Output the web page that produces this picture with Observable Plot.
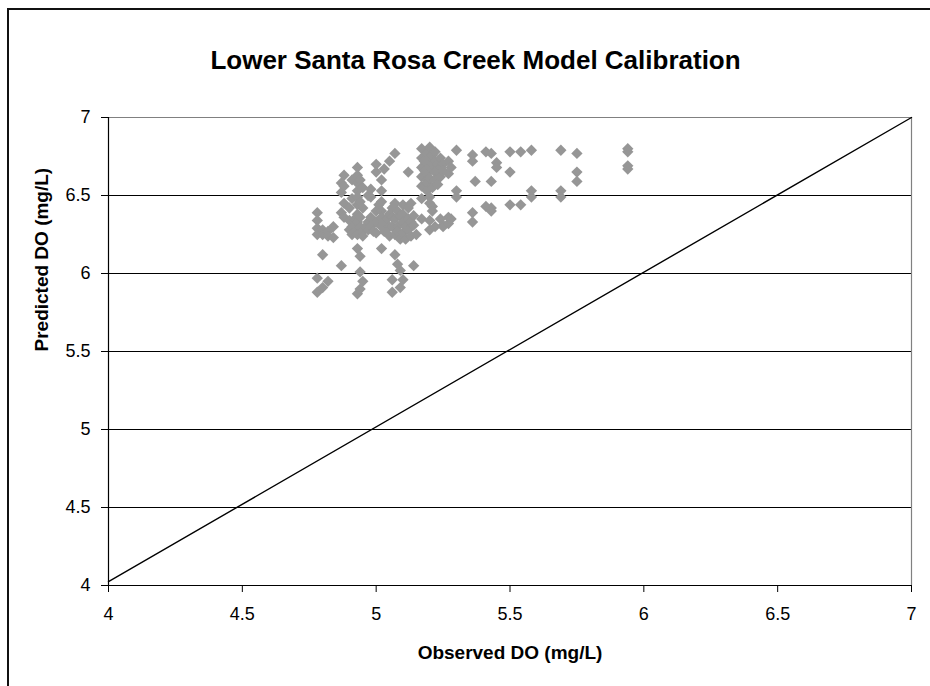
<!DOCTYPE html>
<html><head><meta charset="utf-8">
<script src="https://cdn.jsdelivr.net/npm/d3@7"></script>
<script src="https://cdn.jsdelivr.net/npm/@observablehq/plot@0.6"></script>
<style>
body{margin:0;background:#fff;}
#wrap{position:relative;width:930px;height:686px;overflow:hidden;background:#fff;}
#frame{position:absolute;left:7px;top:8px;width:960px;height:720px;border:2px solid #111;box-sizing:border-box;}
#chart{position:absolute;left:0;top:0;}
</style></head><body>
<div id="wrap"><div id="frame"></div><div id="chart"></div></div>
<script>
const title = "Lower Santa Rosa Creek Model Calibration";
const xTitle = "Observed DO (mg/L)";
const yTitle = "Predicted DO (mg/L)";
const xTicks = [4, 4.5, 5, 5.5, 6, 6.5, 7];
const yTicks = [4, 4.5, 5, 5.5, 6, 6.5, 7];
const gridY = [4.5, 5, 5.5, 6, 6.5];
const lineX = [4, 7];
const lineY = [4.025, 7];

const obsDO = [
  4.78,4.78,4.78,4.78,4.78,4.78,
  4.80,4.80,4.80,4.80,
  4.82,4.82,4.82,
  4.84,4.84,
  4.87,4.87,4.87,4.87,
  4.88,4.88,4.88,4.88,
  4.90,4.90,4.90,
  4.91,4.91,4.91,4.91,
  4.92,
  4.93,4.93,4.93,4.93,4.93,4.93,4.93,4.93,4.93,4.93,4.93,4.93,
  4.94,4.94,4.94,4.94,4.94,4.94,4.94,
  4.95,4.95,4.95,4.95,4.95,
  4.96,
  4.97,4.97,4.97,
  4.98,4.98,4.98,4.98,
  4.99,
  5.00,5.00,5.00,5.00,5.00,
  5.01,
  5.02,5.02,5.02,5.02,5.02,5.02,5.02,
  5.03,5.03,5.03,
  5.04,
  5.05,5.05,5.05,5.05,
  5.06,5.06,5.06,5.06,5.06,
  5.07,5.07,5.07,5.07,5.07,
  5.08,5.08,5.08,5.08,
  5.09,5.09,5.09,5.09,
  5.10,5.10,5.10,5.10,5.10,
  5.11,5.11,
  5.12,5.12,5.12,5.12,
  5.13,5.13,5.13,
  5.14,5.14,5.14,
  5.15,
  5.17,5.17,5.17,5.17,5.17,5.17,5.17,
  5.18,5.18,
  5.19,5.19,5.19,5.19,5.19,5.19,
  5.20,5.20,5.20,5.20,5.20,5.20,5.20,5.20,
  5.21,5.21,5.21,5.21,5.21,
  5.22,5.22,5.22,5.22,5.22,
  5.23,5.23,
  5.24,5.24,5.24,5.24,
  5.25,5.25,5.25,5.25,
  5.27,5.27,5.27,5.27,
  5.28,5.28,
  5.30,5.30,5.30,
  5.36,5.36,5.36,5.36,
  5.37,
  5.41,5.41,
  5.43,5.43,5.43,5.43,
  5.45,5.45,
  5.50,5.50,5.50,
  5.54,5.54,
  5.58,5.58,5.58,
  5.69,5.69,5.69,
  5.75,5.75,5.75,
  5.94,5.94,5.94,5.94
];
const predDO = [
  6.39,6.34,6.29,6.25,5.97,5.88,
  6.28,6.25,6.12,5.91,
  6.27,6.24,5.95,
  6.30,6.23,
  6.58,6.52,6.39,6.05,
  6.63,6.56,6.45,6.36,
  6.42,6.34,6.28,
  6.60,6.48,6.30,6.25,
  6.35,
  6.68,6.63,6.58,6.53,6.49,6.44,6.38,6.33,6.28,6.25,6.16,5.87,
  6.60,6.46,6.36,6.30,6.11,6.01,5.90,
  6.55,6.42,6.27,6.24,5.95,
  6.30,
  6.50,6.33,6.28,
  6.54,6.49,6.36,6.30,
  6.27,
  6.70,6.65,6.40,6.33,6.26,
  6.44,
  6.60,6.53,6.46,6.40,6.36,6.30,6.16,
  6.67,6.33,6.27,
  6.35,
  6.72,6.38,6.30,6.24,
  6.42,6.36,6.30,5.96,5.88,
  6.77,6.45,6.35,6.25,6.12,
  6.40,6.30,6.27,6.06,
  6.37,6.22,6.02,5.91,
  6.44,6.38,6.33,6.26,5.96,
  6.30,6.22,
  6.65,6.42,6.35,6.28,
  6.45,6.33,6.24,
  6.37,6.31,6.05,
  6.25,
  6.80,6.74,6.68,6.62,6.56,6.48,6.35,
  6.72,6.66,
  6.77,6.71,6.64,6.60,6.58,6.53,
  6.81,6.75,6.68,6.61,6.49,6.45,6.34,6.28,
  6.76,6.70,6.55,6.43,6.40,
  6.78,6.72,6.65,6.60,6.30,
  6.70,6.57,
  6.74,6.68,6.62,6.35,
  6.70,6.66,6.31,6.30,
  6.72,6.64,6.36,6.32,
  6.68,6.35,
  6.79,6.53,6.49,
  6.76,6.72,6.39,6.33,
  6.59,
  6.78,6.43,
  6.77,6.59,6.42,6.40,
  6.71,6.68,
  6.78,6.65,6.44,
  6.78,6.44,
  6.79,6.53,6.49,
  6.79,6.53,6.49,
  6.77,6.65,6.59,
  6.80,6.78,6.69,6.67
];

const points = obsDO.map((x, i) => ({x, y: predDO[i]}));
const diag = lineX.map((x, i) => ({x, y: lineY[i]}));
const fmt = d => String(d);

const chart = Plot.plot({
  width: 930,
  height: 686,
  marginLeft: 108,
  marginRight: 19,
  marginTop: 117,
  marginBottom: 101,
  style: {fontFamily: "'Liberation Sans', Arial, sans-serif", fontSize: "18px", color: "#000", background: "transparent"},
  x: {domain: [4, 7], label: null},
  y: {domain: [4, 7], label: null},
  marks: [
    Plot.ruleY(gridY, {stroke: "#000", strokeWidth: 1.2}),
    Plot.ruleY([7], {stroke: "#808080", strokeWidth: 1.2}),
    Plot.ruleX([7], {stroke: "#808080", strokeWidth: 1.2}),
    Plot.ruleX([4], {stroke: "#000", strokeWidth: 1.2}),
    Plot.ruleY([4], {stroke: "#000", strokeWidth: 1.2}),
    Plot.axisX({ticks: xTicks, tickFormat: fmt, tickSize: 7, tickPadding: 15, fontSize: 18, label: null, stroke: "#000"}),
    Plot.axisY({ticks: yTicks, tickFormat: fmt, tickSize: 7, tickPadding: 11, fontSize: 18, label: null, stroke: "#000"}),
    Plot.line(diag, {x: "x", y: "y", stroke: "#000", strokeWidth: 1.4}),
    Plot.dot(points, {x: "x", y: "y", symbol: "diamond2", r: 5.1, fill: "#969696", stroke: "none"}),
    Plot.text([title], {frameAnchor: "top-left", dx: 367, dy: -67, textAnchor: "middle", fontWeight: "bold", fontSize: 26}),
    Plot.text([xTitle], {frameAnchor: "bottom", dy: 73, fontWeight: "bold", fontSize: 19}),
    Plot.text([yTitle], {frameAnchor: "left", dx: -67, rotate: -90, fontWeight: "bold", fontSize: 19})
  ]
});
document.getElementById("chart").appendChild(chart);
</script>
</body></html>
